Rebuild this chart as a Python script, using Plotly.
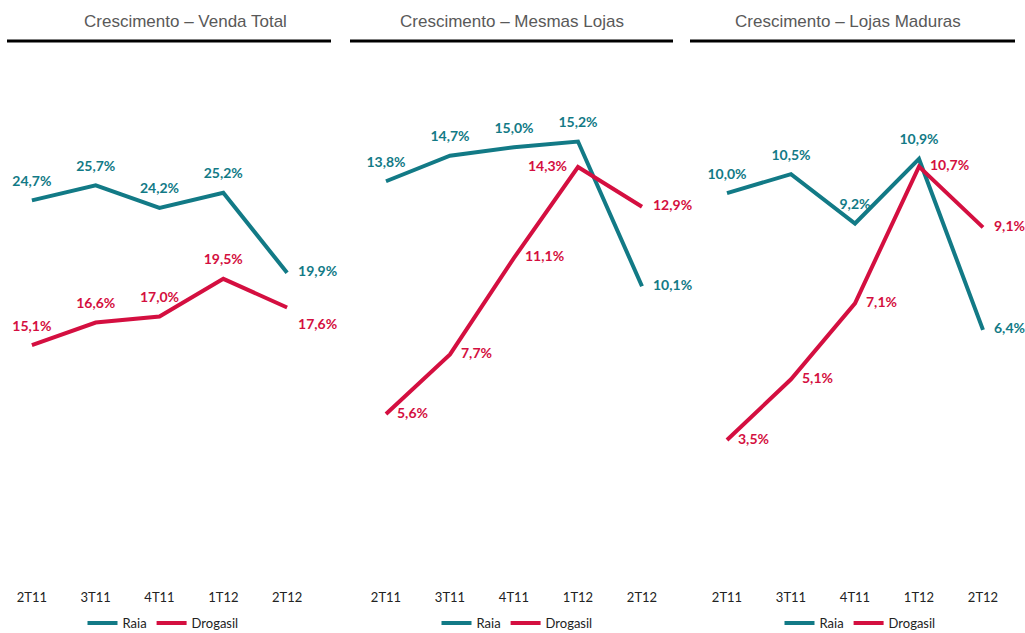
import plotly.graph_objects as go

W, H = 1025, 633

quarters = ["2T11", "3T11", "4T11", "1T12", "2T12"]
titles = ["Crescimento – Venda Total", "Crescimento – Mesmas Lojas", "Crescimento – Lojas Maduras"]

raia_total = [24.7, 25.7, 24.2, 25.2, 19.9]
droga_total = [15.1, 16.6, 17.0, 19.5, 17.6]
raia_mesmas = [13.8, 14.7, 15.0, 15.2, 10.1]
droga_mesmas = [5.6, 7.7, 11.1, 14.3, 12.9]
raia_maduras = [10.0, 10.5, 9.2, 10.9, 6.4]
droga_maduras = [3.5, 5.1, 7.1, 10.7, 9.1]

TEAL = "#127A86"
RED = "#D40F40"
FONT = "Lato"

panels = [
    (raia_total, droga_total,
     ["top center"] * 4 + ["middle right"],
     ["top center"] * 4 + ["bottom right"], 35.0),
    (raia_mesmas, droga_mesmas,
     ["top center"] * 4 + ["middle right"],
     ["middle right"] * 3 + ["middle left", "middle right"], 18.6),
    (raia_maduras, droga_maduras,
     ["top center"] * 4 + ["middle right"],
     ["middle right"] * 5, 13.9),
]

def fmt(v):
    return f"{v:.1f}%".replace(".", ",")

x_domains = [(0, 319 / W), (354 / W, 674 / W), (695 / W, 1015 / W)]
y_domain = (1 - 573 / H, 1 - 45 / H)
legend_x = [163 / W, 517 / W, 860 / W]
line_spans = [(7, 331), (350, 673), (690, 1015)]
title_x = [185, 512, 848]

fig = go.Figure()
layout = dict(width=W, height=H,
              margin=dict(l=0, r=0, t=0, b=0, autoexpand=False),
              paper_bgcolor="white", plot_bgcolor="white", shapes=[], annotations=[])

for i, (raia, droga, pos_r, pos_d, ymax) in enumerate(panels):
    n = "" if i == 0 else str(i + 1)
    leg = "legend" if i == 0 else f"legend{i + 1}"
    for name, vals, col, pos in [("Raia", raia, TEAL, pos_r), ("Drogasil", droga, RED, pos_d)]:
        fig.add_trace(go.Scatter(
            x=quarters, y=vals, name=name, mode="lines+markers+text",
            text=[fmt(v) for v in vals], textposition=pos,
            textfont=dict(family=FONT, size=14, color=col, weight="bold"),
            line=dict(color=col, width=4),
            marker=dict(size=16, color="rgba(0,0,0,0)"),
            xaxis="x" + n, yaxis="y" + n, legend=leg, cliponaxis=False,
        ))
    layout["xaxis" + n] = dict(domain=x_domains[i], anchor="y" + n, showgrid=False,
                               showline=False, zeroline=False, ticks="outside",
                               ticklen=12, tickcolor="rgba(0,0,0,0)",
                               tickfont=dict(family=FONT, size=13, color="#222"),
                               range=[-0.5, 4.5])
    layout["yaxis" + n] = dict(domain=y_domain, anchor="x" + n, range=[0, ymax],
                               visible=False)
    layout[leg] = dict(orientation="h", x=legend_x[i], xanchor="center",
                       y=1 - 623 / H, yanchor="middle",
                       font=dict(family=FONT, size=13, color="#222"),
                       itemwidth=30, bgcolor="rgba(0,0,0,0)")
    x0, x1 = line_spans[i]
    layout["shapes"].append(dict(type="line", xref="paper", yref="paper",
                                 x0=x0 / W, x1=x1 / W, y0=1 - 41 / H, y1=1 - 41 / H,
                                 line=dict(color="black", width=3)))
    layout["annotations"].append(dict(text=titles[i], xref="paper", yref="paper",
                                      x=title_x[i] / W, y=1 - 22 / H, showarrow=False,
                                      xanchor="center", yanchor="middle",
                                      font=dict(family="Liberation Sans", size=17, color="#595959")))

fig.update_layout(**layout)
fig.write_html(
    "out.html",
    config={"displayModeBar": False},
    post_script="document.body.style.margin='0';"
                "document.body.style.overflow='hidden';"
                "document.documentElement.style.overflow='hidden';",
)
